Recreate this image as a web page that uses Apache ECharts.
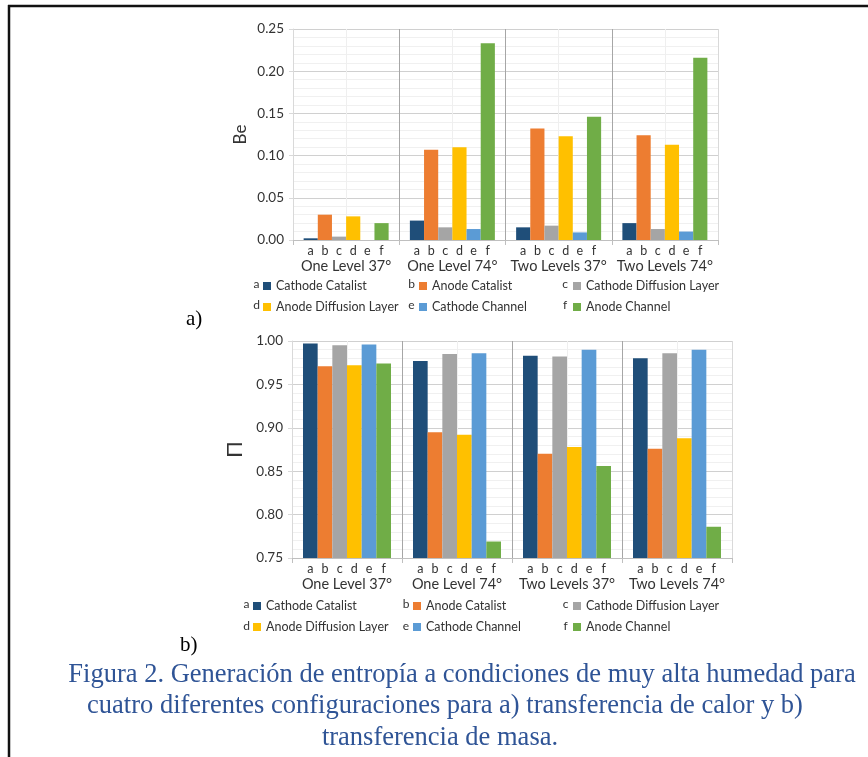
<!DOCTYPE html>
<html><head><meta charset="utf-8">
<script src="https://cdn.jsdelivr.net/npm/echarts@6/dist/echarts.min.js"></script>
<style>html,body{margin:0;padding:0;background:#fff}#c{width:868px;height:757px}</style>
</head><body><div id="c"></div><script>
// ---- data ----
const groups = ['One Level 37°', 'One Level 74°', 'Two Levels 37°', 'Two Levels 74°'];
const letters = ['a', 'b', 'c', 'd', 'e', 'f'];
const seriesNames = ['Cathode Catalist', 'Anode Catalist', 'Cathode Diffusion Layer', 'Anode Diffusion Layer', 'Cathode Channel', 'Anode Channel'];
const colors = ['#1f4e79', '#ed7d31', '#a5a5a5', '#ffc000', '#5b9bd5', '#70ad47'];

// a) Be
const beCathodeCatalist  = [0.002, 0.023, 0.015, 0.020];
const beAnodeCatalist    = [0.030, 0.107, 0.132, 0.124];
const beCathodeDiffusion = [0.004, 0.015, 0.017, 0.013];
const beAnodeDiffusion   = [0.028, 0.110, 0.123, 0.113];
const beCathodeChannel   = [0.000, 0.013, 0.009, 0.010];
const beAnodeChannel     = [0.020, 0.233, 0.146, 0.216];
const beTicks = [0.00, 0.05, 0.10, 0.15, 0.20, 0.25];

// b) Π
const piCathodeCatalist  = [0.997, 0.977, 0.983, 0.980];
const piAnodeCatalist    = [0.971, 0.895, 0.870, 0.876];
const piCathodeDiffusion = [0.995, 0.985, 0.982, 0.986];
const piAnodeDiffusion   = [0.972, 0.892, 0.878, 0.888];
const piCathodeChannel   = [0.996, 0.986, 0.990, 0.990];
const piAnodeChannel     = [0.974, 0.769, 0.856, 0.786];
const piTicks = [0.75, 0.80, 0.85, 0.90, 0.95, 1.00];

const captionLines = [
  'Figura 2. Generación de entropía a condiciones de muy alta humedad para',
  'cuatro diferentes configuraciones para a) transferencia de calor y b)',
  'transferencia de masa.'
];

// ---- build ----
const beData = [beCathodeCatalist, beAnodeCatalist, beCathodeDiffusion, beAnodeDiffusion, beCathodeChannel, beAnodeChannel];
const piData = [piCathodeCatalist, piAnodeCatalist, piCathodeDiffusion, piAnodeDiffusion, piCathodeChannel, piAnodeChannel];
const F = 'Lato';
const TXT = '#333333';

// letter positions: 30 slots per group, letters at slots 5,9,...,25
const slotLabels = [];
for (let i = 0; i <= 120; i++) {
  const r = i % 30;
  const k = (r - 5) / 4;
  slotLabels.push(i < 120 && r >= 5 && r <= 25 && Number.isInteger(k) ? letters[k] : '');
}

function groupAxis(gi) {
  return {
    type: 'category', gridIndex: gi, data: groups, position: 'bottom',
    axisLine: { show: true, lineStyle: { color: '#bfbfbf', width: 1 } },
    axisTick: { show: true, length: 5, lineStyle: { color: '#bfbfbf' } },
    axisLabel: { interval: 0, margin: 19, fontFamily: F, fontSize: 14.5, color: TXT, hideOverlap: false },
    splitLine: { show: false }
  };
}
function letterAxis(gi) {
  return {
    type: 'category', gridIndex: gi, data: slotLabels, boundaryGap: false, position: 'bottom',
    axisLine: { show: false }, axisTick: { show: false },
    axisLabel: { interval: 0, margin: 4, fontFamily: F, fontSize: 12.5, color: TXT },
    splitLine: { show: true, interval: 14, lineStyle: { width: 1,
      color: ['#d9d9d9', '#efefef', '#a6a6a6', '#efefef', '#a6a6a6', '#efefef', '#a6a6a6', '#efefef', '#d9d9d9'] } }
  };
}
function valAxis(gi, ticks, name, nameSize, nameGap) {
  return {
    type: 'value', gridIndex: gi, min: ticks[0], max: ticks[ticks.length - 1],
    interval: 0.05, startValue: ticks[0],
    name: name, nameLocation: 'middle', nameGap: nameGap,
    nameTextStyle: { fontFamily: F, fontSize: nameSize, color: TXT },
    axisLine: { show: true, lineStyle: { color: '#d9d9d9' } },
    axisTick: { show: true, length: 4, lineStyle: { color: '#d9d9d9' } },
    axisLabel: { margin: 9, fontFamily: F, fontSize: 13.5, color: TXT, formatter: v => v.toFixed(2) },
    splitLine: { show: true, lineStyle: { color: '#d0d0d0', width: 1 } },
    minorTick: { show: false, splitNumber: 5 },
    minorSplitLine: { show: true, lineStyle: { color: '#f0f0f0', width: 1 } }
  };
}

const series = [];
[beData, piData].forEach((set, gi) => {
  set.forEach((vals, si) => {
    series.push({
      type: 'bar', name: seriesNames[si], xAxisIndex: gi * 2, yAxisIndex: gi,
      data: vals, barGap: '0%', barCategoryGap: '20%',
      itemStyle: { color: colors[si] }, clip: true, z: 3
    });
  });
});

function legendCol(names, left, top) {
  return {
    orient: 'vertical', left: left, top: top, data: names, icon: 'rect',
    itemWidth: 8, itemHeight: 8, itemGap: 7, selectedMode: false, padding: 0,
    textStyle: { fontFamily: F, fontSize: 12.5, color: TXT, lineHeight: 14 }
  };
}
const legends = [
  legendCol([seriesNames[0], seriesNames[3]], 263, 279),
  legendCol([seriesNames[1], seriesNames[4]], 419, 279),
  legendCol([seriesNames[2], seriesNames[5]], 573, 279),
  legendCol([seriesNames[0], seriesNames[3]], 253, 599),
  legendCol([seriesNames[1], seriesNames[4]], 413, 599),
  legendCol([seriesNames[2], seriesNames[5]], 573, 599)
];

const graphics = [
  { type: 'line', shape: { x1: 8, y1: 6, x2: 868, y2: 6 }, style: { stroke: '#111', lineWidth: 2.5 } },
  { type: 'line', shape: { x1: 9, y1: 5, x2: 9, y2: 757 }, style: { stroke: '#111', lineWidth: 2.5 } },
  { type: 'text', left: 186, top: 309, style: { text: 'a)', font: '21px "Liberation Serif"', fill: '#000' } },
  { type: 'text', left: 180, top: 635, style: { text: 'b)', font: '21px "Liberation Serif"', fill: '#000' } }
];
// legend prefix letters
const prefixPos = [
  [256.5, 284], [411.5, 284], [565, 284], [256.5, 305], [411.5, 305], [565, 305],
  [246.5, 604], [406, 604], [565.5, 604], [246.5, 626], [406, 626], [565.5, 626]
];
const prefixOrder = [0, 1, 2, 3, 4, 5, 0, 1, 2, 3, 4, 5];
prefixPos.forEach((p, i) => {
  graphics.push({ type: 'text', x: p[0], y: p[1],
    style: { text: letters[prefixOrder[i]], font: '12px Lato', fill: TXT, align: 'center', verticalAlign: 'middle' } });
});
const capY = [675, 706, 738];
const capX = [462, 445, 440];
captionLines.forEach((t, i) => {
  graphics.push({ type: 'text', x: capX[i], y: capY[i],
    style: { text: t, font: '26.5px "Liberation Serif"', fill: '#2f5496', align: 'center', verticalAlign: 'middle' } });
});

const chart = echarts.init(document.getElementById('c'), null, { renderer: 'canvas' });
chart.setOption({
  backgroundColor: '#fff',
  animation: false,
  grid: [
    { left: 293, top: 29, width: 425, height: 211 },
    { left: 292, top: 341, width: 440, height: 217 }
  ],
  xAxis: [groupAxis(0), letterAxis(0), groupAxis(1), letterAxis(1)],
  yAxis: [valAxis(0, beTicks, 'Be', 17, 44), valAxis(1, piTicks, 'Π', 22, 41)],
  legend: legends,
  series: series,
  graphic: graphics
});
</script></body></html>
